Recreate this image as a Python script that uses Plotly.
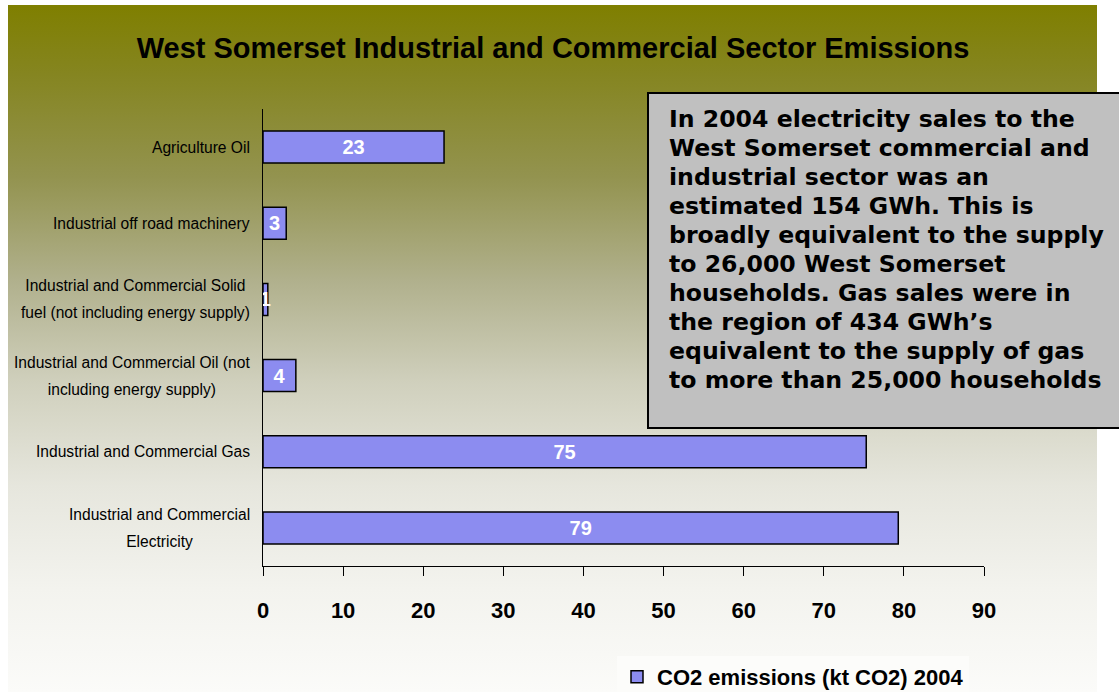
import base64
import plotly.graph_objects as go

# ---------------- data ----------------
categories = [
    "Industrial and Commercial<br>Electricity",
    "Industrial and Commercial Gas",
    "Industrial and Commercial Oil (not<br>including energy supply)",
    "Industrial and Commercial Solid<br>fuel (not including energy supply)",
    "Industrial off road machinery",
    "Agriculture Oil",
]
co2_2004 = [79.3, 75.3, 4.1, 0.6, 2.9, 22.6]
series_name = "CO2 emissions (kt CO2) 2004"
title_text = "West Somerset Industrial and Commercial Sector Emissions"
x_ticks = [0, 10, 20, 30, 40, 50, 60, 70, 80, 90]
note_lines = [
    "In 2004 electricity sales to the",
    "West Somerset commercial and",
    "industrial sector was an",
    "estimated 154 GWh. This is",
    "broadly equivalent to the supply",
    "to 26,000 West Somerset",
    "households. Gas sales were in",
    "the region of 434 GWh\u2019s",
    "equivalent to the supply of gas",
    "to more than 25,000 households",
]

# ---------------- layout geometry ----------------
W, H = 1119, 692
ML, MR, MT, MB = 263, 135, 109, 126
PW, PH = W - ML - MR, H - MT - MB


def px_x(p):
    return (p - ML) / PW


def px_y(p):
    return (H - MB - p) / PH


SANS = "Liberation Sans, Arial, sans-serif"

# background gradient as an SVG data URI
stops = [
    (0.00, "#7f7f00"),
    (0.10, "#858520"),
    (0.25, "#93934f"),
    (0.40, "#b0b08c"),
    (0.55, "#d0d0bd"),
    (0.70, "#e6e6dd"),
    (0.85, "#f3f3ee"),
    (1.00, "#fbfbf9"),
]
stop_xml = "".join(f'<stop offset="{o}" stop-color="{c}"/>' for o, c in stops)
svg = (
    '<svg xmlns="http://www.w3.org/2000/svg" width="100" height="100" preserveAspectRatio="none">'
    '<defs><linearGradient id="g" x1="0" y1="0" x2="0" y2="1">' + stop_xml +
    '</linearGradient></defs><rect width="100" height="100" fill="url(#g)"/></svg>'
)
svg_uri = "data:image/svg+xml;base64," + base64.b64encode(svg.encode()).decode()

fig = go.Figure()
fig.add_trace(go.Bar(
    y=categories,
    x=co2_2004,
    orientation="h",
    name=series_name,
    width=0.42,
    marker=dict(color="#8c8cf0", line=dict(color="black", width=1.5)),
    texttemplate="%{x:.0f}",
    textposition="inside",
    insidetextanchor="middle",
    textangle=0,
    constraintext="none",
    textfont=dict(family=SANS, size=20, color="white", weight="bold"),
    showlegend=True,
))

annotations = []
for c in categories:
    annotations.append(dict(
        x=0, xref="paper", y=c, yref="y",
        xanchor="right", yanchor="middle", xshift=-11,
        align="center", showarrow=False,
        text=f'<span style="font-size:15.6px">{c}</span>',
        font=dict(family=SANS, size=21, color="black"),
    ))

note_text = "<br>".join(note_lines)
annotations.append(dict(
    x=px_x(667), xref="paper", y=px_y(103), yref="paper",
    xanchor="left", yanchor="top", align="left", showarrow=False,
    text=f'<span style="font-size:23.6px">{note_text}</span>',
    font=dict(family="DejaVu Sans, Verdana, sans-serif", size=22.3, color="black", weight="bold"),
))

shapes = [dict(
    type="rect", xref="paper", yref="paper",
    x0=px_x(648), x1=px_x(1125), y0=px_y(428), y1=px_y(93),
    fillcolor="#c0c0c0", line=dict(color="black", width=2), layer="above",
)]

fig.update_layout(
    width=W, height=H,
    margin=dict(l=ML, r=MR, t=MT, b=MB, autoexpand=False),
    paper_bgcolor="white",
    plot_bgcolor="rgba(0,0,0,0)",
    images=[dict(
        source=svg_uri, xref="paper", yref="paper",
        x=px_x(8), y=px_y(5), sizex=px_x(1097) - px_x(8), sizey=px_y(5) - px_y(H),
        xanchor="left", yanchor="top", sizing="stretch", layer="below",
    )],
    title=dict(
        text=title_text, x=553 / W, xanchor="center", y=1 - 48 / H, yanchor="middle",
        font=dict(family=SANS, size=29, color="black", weight="bold"),
    ),
    xaxis=dict(
        range=[0, 90], tickvals=x_ticks, showgrid=False, zeroline=False,
        showline=True, linecolor="black", linewidth=1,
        ticks="outside", ticklen=9, tickcolor="black", tickwidth=1,
        ticklabelstandoff=16,
        tickfont=dict(family=SANS, size=22, color="black", weight="bold"),
    ),
    yaxis=dict(
        showgrid=False, zeroline=False, showline=True, linecolor="black", linewidth=1,
        showticklabels=False, ticks="",
    ),
    legend=dict(
        orientation="h", x=px_x(617), xanchor="left", y=px_y(698), yanchor="bottom",
        bgcolor="#fcfcfa", font=dict(family=SANS, size=22, color="black", weight="bold"),
    ),
    annotations=annotations,
    shapes=shapes,
    bargap=0.58,
)

fig.write_html(
    "out.html",
    config={"displayModeBar": False},
    post_script="document.body.style.margin='0';",
)
